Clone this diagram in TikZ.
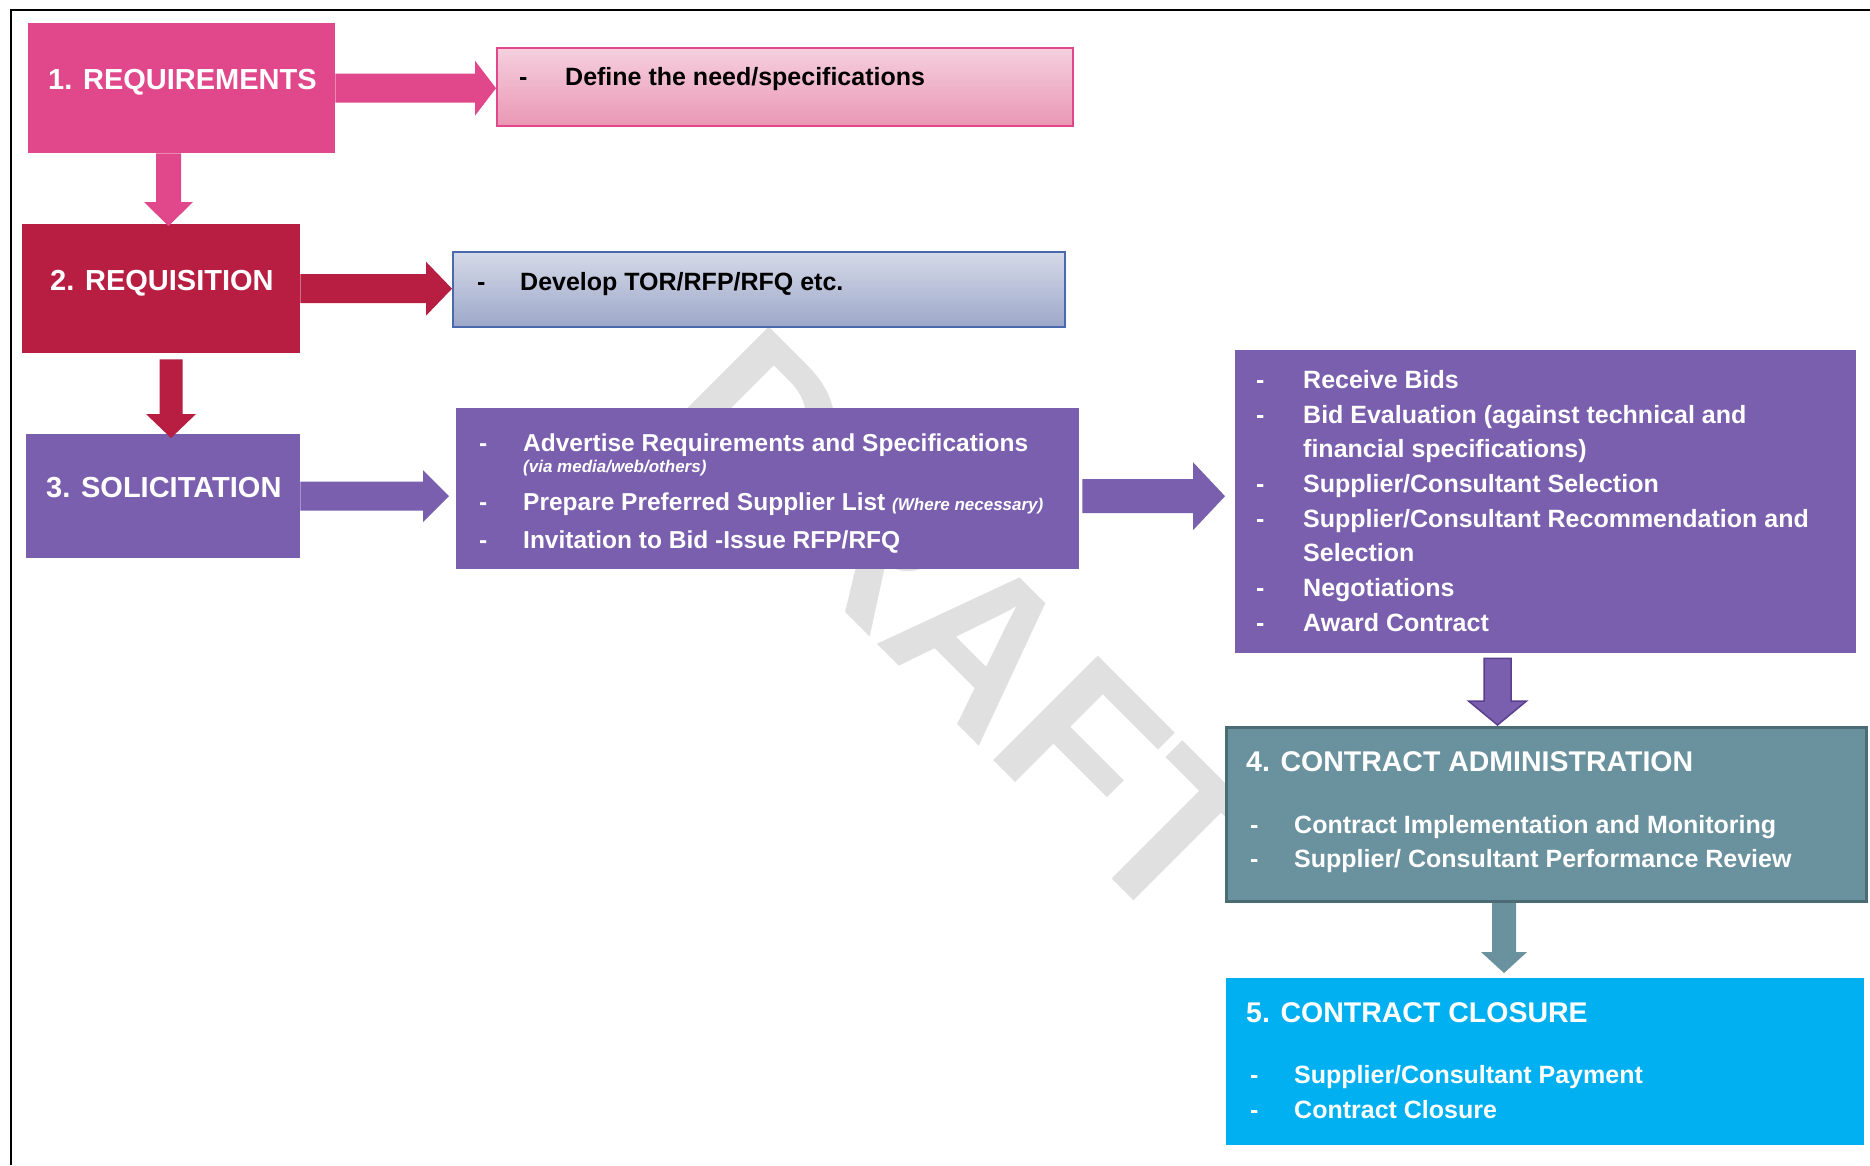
\documentclass[tikz,border=0pt]{standalone}
\usepackage{fontspec}
\setmainfont{Liberation Sans}
\usetikzlibrary{calc}
\definecolor{cPink}{HTML}{E0488B}
\definecolor{cCrim}{HTML}{B71E42}
\definecolor{cPurp}{HTML}{7A5FAE}
\definecolor{cPurpD}{HTML}{5B3F8F}
\definecolor{cTeal}{HTML}{6A919E}
\definecolor{cTealD}{HTML}{4B6B75}
\definecolor{cCyan}{HTML}{00B0F0}
\definecolor{cPinkT}{HTML}{F5D0DE}
\definecolor{cPinkB}{HTML}{EA97B4}
\definecolor{cBlueT}{HTML}{D5DAE8}
\definecolor{cBlueB}{HTML}{9DA7C9}
\definecolor{cBlueE}{HTML}{4A6AAE}
\definecolor{cWm}{HTML}{E0E0E0}
% horizontal block arrow: start, tip, shaft half, head half, head length, style
\newcommand\hblockarrow[6]{\path[#6] ($(#1)+(0,-#3)$) -- ($(#2)+(-#5,-#3)$) -- ($(#2)+(-#5,-#4)$) -- (#2) -- ($(#2)+(-#5,#4)$) -- ($(#2)+(-#5,#3)$) -- ($(#1)+(0,#3)$) -- cycle;}
% vertical (downward) block arrow
\newcommand\vblockarrow[6]{\path[#6] ($(#1)+(-#3,0)$) -- ($(#2)+(-#3,-#5)$) -- ($(#2)+(-#4,-#5)$) -- (#2) -- ($(#2)+(#4,-#5)$) -- ($(#2)+(#3,-#5)$) -- ($(#1)+(#3,0)$) -- cycle;}
\begin{document}
\begin{tikzpicture}[x=1pt,y=-1pt,
  box/.style={rectangle, inner sep=0pt, anchor=north west},
  tx/.style={inner sep=0pt, anchor=base west, text=white, font=\fontsize{25pt}{30pt}\selectfont\bfseries},
  txs/.style={tx, font=\fontsize{24.5pt}{30pt}\selectfont\bfseries},
  ttl/.style={tx, font=\fontsize{29pt}{34pt}\selectfont\bfseries},
  ttlb/.style={tx, font=\fontsize{28.5pt}{34pt}\selectfont\bfseries},
  sm/.style={tx, font=\fontsize{17pt}{20pt}\selectfont\bfseries\itshape},
  wm/.style={inner sep=0pt, anchor=base west, rotate=-45, text=cWm, font=\fontsize{215pt}{215pt}\selectfont\bfseries}
]
\useasboundingbox (0,0) rectangle (1870,1165);
\fill[white] (0,0) rectangle (1870,1165);
% frame
\draw[line width=2pt] (11,1165) -- (11,10) -- (1870,10);
% watermark
\node[wm] (wm) at (654,421) {DRAFT};

% boxes
\node[box, fill=cPink, minimum width=307pt, minimum height=130pt] (b1) at (28,23) {};
\node[box, top color=cPinkT, bottom color=cPinkB, draw=cPink, line width=1.5pt, minimum width=576pt, minimum height=78pt] (d1) at (496,47) {};
\node[box, fill=cCrim, minimum width=278pt, minimum height=129pt] (b2) at (22,224) {};
\node[box, top color=cBlueT, bottom color=cBlueB, draw=cBlueE, line width=1.5pt, minimum width=612pt, minimum height=75pt] (d2) at (452,251) {};
\node[box, fill=cPurp, minimum width=274pt, minimum height=124pt] (b3) at (26,434) {};
\node[box, fill=cPurp, minimum width=623pt, minimum height=161pt] (d3) at (456,408) {};
\node[box, fill=cPurp, minimum width=621pt, minimum height=303pt] (e) at (1235,350) {};
\node[box, fill=cTeal, draw=cTealD, line width=3pt, minimum width=640pt, minimum height=174pt] (b4) at (1225,726) {};
\node[box, fill=cCyan, minimum width=638pt, minimum height=167pt] (b5) at (1226,978) {};

% connector end points
\coordinate (a3e) at ($(d3.west |- b3.east)+(-7,0)$);
\coordinate (a4s) at ($(d3.east)+(3,7.5)$);
\coordinate (a4e) at ($(e.west)+(-10,-5.5)$);
\coordinate (v1s) at ($(b1.south west)+(140.5,0)$);
\coordinate (v1e) at ($(b2.north west)+(146.5,2)$);
\coordinate (v2s) at ($(b2.south west)+(149,6)$);
\coordinate (v2e) at ($(b3.north west)+(145,4)$);
\coordinate (v3s) at ($(e.south west)+(262.5,5)$);
\coordinate (v3e) at ($(b4.north west)+(272.5,-1)$);
\coordinate (v4s) at ($(b4.south west)+(279,0)$);
\coordinate (v4e) at ($(b5.north west)+(278,-5)$);

% arrows
\hblockarrow{b1.east}{d1.west |- b1.east}{14.5}{27.5}{21}{fill=cPink}
\hblockarrow{b2.east}{d2.west |- b2.east}{14.5}{27}{26}{fill=cCrim}
\hblockarrow{b3.east}{a3e}{14.5}{26}{26}{fill=cPurp}
\hblockarrow{a4s}{a4e}{17}{34}{32}{fill=cPurp}
\vblockarrow{v1s}{v1e}{12.5}{24.5}{24}{fill=cPink}
\vblockarrow{v2s}{v2e}{11.5}{25}{24}{fill=cCrim}
\vblockarrow{v3s}{v3e}{13.5}{29}{24}{fill=cPurp, draw=cPurpD, line width=1.5pt, line join=miter}
\vblockarrow{v4s}{v4e}{12}{23}{21}{fill=cTeal}

% texts
\node[ttl] (t1) at (48,89) {1. REQUIREMENTS};
\node[tx, text=black] (t1d) at (519,85) {-};
\node[tx, text=black] (t1x) at (565,85) {Define the need/specifications};

\node[ttl] (t2) at (50,290) {2. REQUISITION};
\node[tx, text=black] (t2d) at (477,290) {-};
\node[tx, text=black] (t2x) at (520,290) {Develop TOR/RFP/RFQ etc.};

\node[ttl] (t3) at (46,497) {3. SOLICITATION};
\node[txs] (s1d) at (479,451) {-};
\node[txs] (s1x) at (523,451) {Advertise Requirements and Specifications};
\node[sm] (s1s) at (523,472) {(via media/web/others)};
\node[txs] (s2d) at (479,510) {-};
\node[txs] (s2x) at (523,510) {Prepare Preferred Supplier List {\fontsize{17pt}{20pt}\selectfont\itshape (Where necessary)}};
\node[txs] (s3d) at (479,548) {-};
\node[txs] (s3x) at (523,548) {Invitation to Bid -Issue RFP/RFQ};

\node[tx] (e1d) at (1256,388) {-};
\node[tx] (e1x) at (1303,388) {Receive Bids};
\node[tx] (e2d) at (1256,423) {-};
\node[tx] (e2x) at (1303,423) {Bid Evaluation (against technical and};
\node[tx] (e2y) at (1303,457) {financial specifications)};
\node[tx] (e3d) at (1256,492) {-};
\node[tx] (e3x) at (1303,492) {Supplier/Consultant Selection};
\node[tx] (e4d) at (1256,527) {-};
\node[tx] (e4x) at (1303,527) {Supplier/Consultant Recommendation and};
\node[tx] (e4y) at (1303,561) {Selection};
\node[tx] (e5d) at (1256,596) {-};
\node[tx] (e5x) at (1303,596) {Negotiations};
\node[tx] (e6d) at (1256,631) {-};
\node[tx] (e6x) at (1303,631) {Award Contract};

\node[ttlb] (t4) at (1246,771) {4. CONTRACT ADMINISTRATION};
\node[tx] (c1d) at (1250,833) {-};
\node[tx] (c1x) at (1294,833) {Contract Implementation and Monitoring};
\node[tx] (c2d) at (1250,867) {-};
\node[tx] (c2x) at (1294,867) {Supplier/ Consultant Performance Review};

\node[ttlb] (t5) at (1246,1022) {5. CONTRACT CLOSURE};
\node[tx] (k1d) at (1250,1083) {-};
\node[tx] (k1x) at (1294,1083) {Supplier/Consultant Payment};
\node[tx] (k2d) at (1250,1118) {-};
\node[tx] (k2x) at (1294,1118) {Contract Closure};
\end{tikzpicture}
\end{document}
